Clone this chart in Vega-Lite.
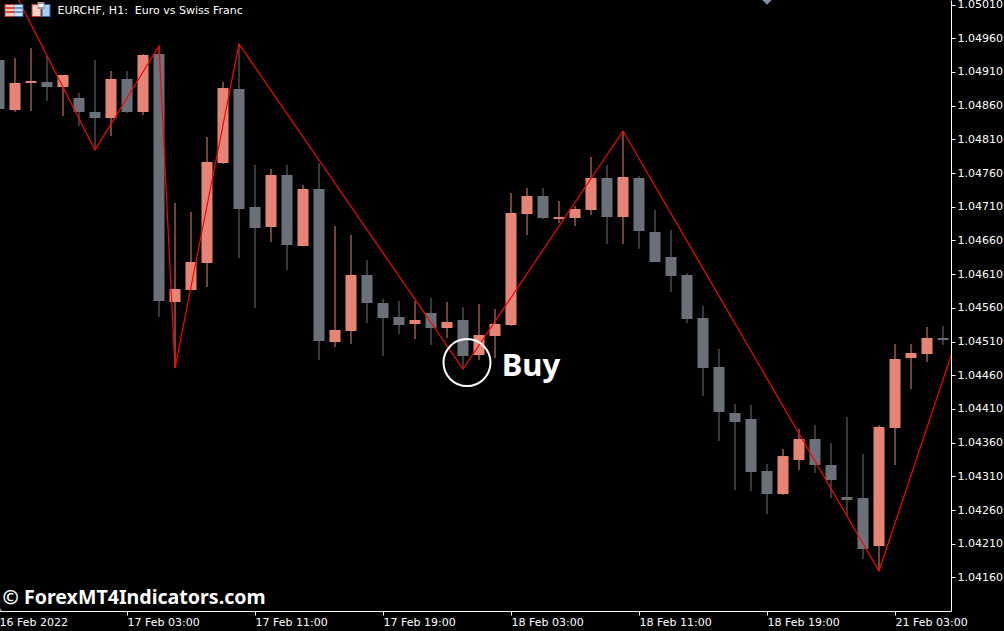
{
"$schema":"https://vega.github.io/schema/vega-lite/v6.json",
"width":952,"height":611,"autosize":{"type":"none"},"padding":{"left":-1,"top":0,"right":53,"bottom":20},"background":"#000000",
"config":{"view":{"stroke":null},"font":"DejaVu Sans"},
"datasets":{
"candles":[
{"i":0,"dir":"down","open":1.049277,"high":1.049277,"low":1.048550,"close":1.048550},
{"i":1,"dir":"up","open":1.048535,"high":1.049306,"low":1.048505,"close":1.048936},
{"i":2,"dir":"up","open":1.048936,"high":1.049455,"low":1.048520,"close":1.048965},
{"i":3,"dir":"down","open":1.048950,"high":1.049336,"low":1.048668,"close":1.048876},
{"i":4,"dir":"up","open":1.048876,"high":1.049054,"low":1.048446,"close":1.049054},
{"i":5,"dir":"down","open":1.048713,"high":1.048787,"low":1.048298,"close":1.048505},
{"i":6,"dir":"down","open":1.048505,"high":1.049277,"low":1.047941,"close":1.048416},
{"i":7,"dir":"up","open":1.048416,"high":1.049114,"low":1.048149,"close":1.048995},
{"i":8,"dir":"down","open":1.048995,"high":1.049114,"low":1.048490,"close":1.048505},
{"i":9,"dir":"up","open":1.048505,"high":1.049366,"low":1.048461,"close":1.049351},
{"i":10,"dir":"down","open":1.049366,"high":1.049484,"low":1.045464,"close":1.045701},
{"i":11,"dir":"up","open":1.045686,"high":1.047155,"low":1.044707,"close":1.045879},
{"i":12,"dir":"up","open":1.045864,"high":1.047022,"low":1.045864,"close":1.046280},
{"i":13,"dir":"up","open":1.046265,"high":1.048134,"low":1.045909,"close":1.047763},
{"i":14,"dir":"up","open":1.047749,"high":1.048950,"low":1.047734,"close":1.048861},
{"i":15,"dir":"down","open":1.048847,"high":1.049514,"low":1.046339,"close":1.047066},
{"i":16,"dir":"down","open":1.047096,"high":1.047719,"low":1.045597,"close":1.046784},
{"i":17,"dir":"up","open":1.046799,"high":1.047660,"low":1.046576,"close":1.047571},
{"i":18,"dir":"down","open":1.047571,"high":1.047719,"low":1.046161,"close":1.046532},
{"i":19,"dir":"up","open":1.046517,"high":1.047422,"low":1.046517,"close":1.047363},
{"i":20,"dir":"down","open":1.047363,"high":1.047749,"low":1.044826,"close":1.045108},
{"i":21,"dir":"up","open":1.045093,"high":1.046814,"low":1.045019,"close":1.045271},
{"i":22,"dir":"up","open":1.045256,"high":1.046680,"low":1.045063,"close":1.046087},
{"i":23,"dir":"down","open":1.046087,"high":1.046309,"low":1.045375,"close":1.045671},
{"i":24,"dir":"down","open":1.045671,"high":1.045731,"low":1.044885,"close":1.045449},
{"i":25,"dir":"down","open":1.045464,"high":1.045701,"low":1.045211,"close":1.045345},
{"i":26,"dir":"up","open":1.045360,"high":1.045701,"low":1.045137,"close":1.045419},
{"i":27,"dir":"down","open":1.045523,"high":1.045746,"low":1.045048,"close":1.045300},
{"i":28,"dir":"up","open":1.045300,"high":1.045686,"low":1.045152,"close":1.045389},
{"i":29,"dir":"down","open":1.045419,"high":1.045612,"low":1.044692,"close":1.044885},
{"i":30,"dir":"up","open":1.044900,"high":1.045657,"low":1.044826,"close":1.045197},
{"i":31,"dir":"up","open":1.045182,"high":1.045582,"low":1.044855,"close":1.045360},
{"i":32,"dir":"up","open":1.045345,"high":1.047303,"low":1.045330,"close":1.047007},
{"i":33,"dir":"up","open":1.046992,"high":1.047378,"low":1.046680,"close":1.047259},
{"i":34,"dir":"down","open":1.047259,"high":1.047378,"low":1.046918,"close":1.046933},
{"i":35,"dir":"up","open":1.046918,"high":1.047185,"low":1.046858,"close":1.046947},
{"i":36,"dir":"up","open":1.046933,"high":1.047111,"low":1.046814,"close":1.047066},
{"i":37,"dir":"up","open":1.047051,"high":1.047838,"low":1.046977,"close":1.047526},
{"i":38,"dir":"down","open":1.047526,"high":1.047719,"low":1.046547,"close":1.046947},
{"i":39,"dir":"up","open":1.046947,"high":1.048223,"low":1.046547,"close":1.047541},
{"i":40,"dir":"down","open":1.047526,"high":1.047556,"low":1.046473,"close":1.046740},
{"i":41,"dir":"down","open":1.046725,"high":1.047051,"low":1.046280,"close":1.046280},
{"i":42,"dir":"down","open":1.046354,"high":1.046754,"low":1.045835,"close":1.046072},
{"i":43,"dir":"down","open":1.046087,"high":1.046117,"low":1.045375,"close":1.045434},
{"i":44,"dir":"down","open":1.045449,"high":1.045627,"low":1.044292,"close":1.044707},
{"i":45,"dir":"down","open":1.044722,"high":1.044989,"low":1.043624,"close":1.044054},
{"i":46,"dir":"down","open":1.044039,"high":1.044173,"low":1.042897,"close":1.043906},
{"i":47,"dir":"down","open":1.043950,"high":1.044158,"low":1.042882,"close":1.043164},
{"i":48,"dir":"down","open":1.043179,"high":1.043283,"low":1.042541,"close":1.042837},
{"i":49,"dir":"up","open":1.042837,"high":1.043505,"low":1.042823,"close":1.043401},
{"i":50,"dir":"up","open":1.043342,"high":1.043802,"low":1.043194,"close":1.043654},
{"i":51,"dir":"down","open":1.043654,"high":1.043861,"low":1.043149,"close":1.043268},
{"i":52,"dir":"down","open":1.043268,"high":1.043594,"low":1.042778,"close":1.043045},
{"i":53,"dir":"down","open":1.042793,"high":1.043980,"low":1.042511,"close":1.042748},
{"i":54,"dir":"down","open":1.042778,"high":1.043431,"low":1.041873,"close":1.042021},
{"i":55,"dir":"up","open":1.042066,"high":1.043861,"low":1.041695,"close":1.043832},
{"i":56,"dir":"up","open":1.043817,"high":1.045063,"low":1.043268,"close":1.044841},
{"i":57,"dir":"up","open":1.044855,"high":1.045063,"low":1.044395,"close":1.044930},
{"i":58,"dir":"up","open":1.044915,"high":1.045315,"low":1.044796,"close":1.045152},
{"i":59,"dir":"down","open":1.045152,"high":1.045330,"low":1.045048,"close":1.045122}
],
"zigzag":[
{"i":1,"price":1.050271},{"i":6,"price":1.047941},{"i":10,"price":1.049484},{"i":11,"price":1.044707},{"i":15,"price":1.049514},{"i":29,"price":1.044692},{"i":39,"price":1.048223},{"i":55,"price":1.041695},{"i":60,"price":1.045241}
],
"labels":[
{"i":3.656,"price":1.050004,"text":"EURCHF, H1:\u00a0 Euro vs Swiss Franc","kind":"header"},
{"i":31.42,"price":1.044722,"text":"Buy","kind":"buy"},
{"i":0.22,"price":1.041293,"text":"© ForexMT4Indicators.com","kind":"footer"}
],
"icons":[
{"a":0.34375,"b":0.96875,"p":1.050108,"q":1.049915,"c":"#c0392b"},
{"a":0.96875,"b":1.53125,"p":1.050108,"q":1.049915,"c":"#2a6db5"},
{"a":0.40625,"b":0.96875,"p":1.050093,"q":1.049930,"c":"#f7c9c0"},
{"a":0.96875,"b":1.46875,"p":1.050093,"q":1.049930,"c":"#cfe3f7"},
{"a":0.40625,"b":0.96875,"p":1.050063,"q":1.050033,"c":"#d9483b"},
{"a":0.40625,"b":0.96875,"p":1.050004,"q":1.049974,"c":"#d9483b"},
{"a":0.96875,"b":1.46875,"p":1.050063,"q":1.050033,"c":"#5b9bd5"},
{"a":0.96875,"b":1.46875,"p":1.050004,"q":1.049974,"c":"#5b9bd5"},
{"a":2.03125,"b":2.65625,"p":1.050108,"q":1.049915,"c":"#c0392b"},
{"a":2.65625,"b":3.21875,"p":1.050108,"q":1.049915,"c":"#2a6db5"},
{"a":2.09375,"b":2.59375,"p":1.050093,"q":1.049930,"c":"#f9d0c8"},
{"a":2.71875,"b":3.15625,"p":1.050093,"q":1.049930,"c":"#a9cdf0"},
{"a":2.40625,"b":2.84375,"p":1.050137,"q":1.050033,"c":"#9a9a9a"},
{"a":2.46875,"b":2.78125,"p":1.050108,"q":1.050063,"c":"#ffffff"}
],
"markers":[
{"i":29.25,"price":1.044788,"kind":"circle"},
{"i":48,"price":1.050167,"kind":"diamond"},
{"i":0.03125,"price":1.041118,"kind":"triangle"}
]
},
"layer":[
{"data":{"name":"candles"},"mark":{"type":"rule","strokeWidth":1,"clip":true},
 "encoding":{
  "x":{"field":"i","type":"quantitative","title":null,"scale":{"domain":[0,59.5],"nice":false,"zero":false,"padding":0},
   "axis":{"values":[0,8,16,24,32,40,48,56],"labelExpr":"['16 Feb 2022','17 Feb 03:00','17 Feb 11:00','17 Feb 19:00','18 Feb 03:00','18 Feb 11:00','18 Feb 19:00','21 Feb 03:00'][datum.value/8]",
    "tickCount":20,"grid":false,"domainColor":"#ffffff","tickColor":"#ffffff","tickSize":4,"labelColor":"#ffffff","labelFont":"DejaVu Sans","labelFontSize":11,"labelAlign":"left","labelBaseline":"top","labelPadding":1,"labelBound":false,"labelFlush":false,"labelOverlap":false}},
  "y":{"field":"high","type":"quantitative","title":null,"scale":{"domain":[1.041102,1.050167],"nice":false,"zero":false,"padding":0},
   "axis":{"orient":"right","values":[1.0501,1.0496,1.0491,1.0486,1.0481,1.0476,1.0471,1.0466,1.0461,1.0456,1.0451,1.0446,1.0441,1.0436,1.0431,1.0426,1.0421,1.0416],"format":".5f",
    "tickCount":20,"grid":false,"domainColor":"#ffffff","tickColor":"#ffffff","tickSize":4,"labelColor":"#ffffff","labelFont":"DejaVu Sans","labelFontSize":11,"labelPadding":2,"labelBound":false,"labelFlush":false,"labelOverlap":false}},
  "y2":{"field":"low"},
  "color":{"field":"dir","type":"nominal","legend":null,"scale":{"domain":["up","down"],"range":["#e68576","#6c7079"]}}
 }},
{"data":{"name":"candles"},"mark":{"type":"bar","size":11,"clip":true},
 "encoding":{
  "x":{"field":"i","type":"quantitative","scale":{"domain":[0,59.5],"nice":false,"zero":false,"padding":0}},
  "y":{"field":"open","type":"quantitative","scale":{"domain":[1.041102,1.050167],"nice":false,"zero":false,"padding":0}},
  "y2":{"field":"close"},
  "color":{"field":"dir","type":"nominal","legend":null}
 }},
{"data":{"name":"zigzag"},"mark":{"type":"line","color":"#ff0000","strokeWidth":1.2,"clip":true},
 "encoding":{"x":{"field":"i","type":"quantitative","scale":{"domain":[0,59.5],"nice":false,"zero":false,"padding":0}},"y":{"field":"price","type":"quantitative","scale":{"domain":[1.041102,1.050167],"nice":false,"zero":false,"padding":0}}}},
{"data":{"name":"markers"},"transform":[{"filter":"datum.kind==='circle'"}],"mark":{"type":"point","shape":"circle","size":2209,"filled":false,"color":"#ffffff","strokeWidth":2,"opacity":1},
 "encoding":{"x":{"field":"i","type":"quantitative","scale":{"domain":[0,59.5],"nice":false,"zero":false,"padding":0}},"y":{"field":"price","type":"quantitative","scale":{"domain":[1.041102,1.050167],"nice":false,"zero":false,"padding":0}}}},
{"data":{"name":"markers"},"transform":[{"filter":"datum.kind==='diamond'"}],"mark":{"type":"point","shape":"diamond","size":90,"filled":true,"color":"#7f90a8","opacity":1,"clip":true},
 "encoding":{"x":{"field":"i","type":"quantitative","scale":{"domain":[0,59.5],"nice":false,"zero":false,"padding":0}},"y":{"field":"price","type":"quantitative","scale":{"domain":[1.041102,1.050167],"nice":false,"zero":false,"padding":0}}}},
{"data":{"name":"markers"},"transform":[{"filter":"datum.kind==='triangle'"}],"mark":{"type":"point","shape":"triangle-up","size":50,"filled":true,"color":"#7f90a8","opacity":1,"clip":true},
 "encoding":{"x":{"field":"i","type":"quantitative","scale":{"domain":[0,59.5],"nice":false,"zero":false,"padding":0}},"y":{"field":"price","type":"quantitative","scale":{"domain":[1.041102,1.050167],"nice":false,"zero":false,"padding":0}}}},
{"data":{"name":"icons"},"mark":{"type":"rect"},
 "encoding":{"x":{"field":"a","type":"quantitative","scale":{"domain":[0,59.5],"nice":false,"zero":false,"padding":0}},"x2":{"field":"b"},"y":{"field":"p","type":"quantitative","scale":{"domain":[1.041102,1.050167],"nice":false,"zero":false,"padding":0}},"y2":{"field":"q"},"fill":{"field":"c","type":"nominal","scale":null}}},
{"data":{"name":"labels"},"transform":[{"filter":"datum.kind==='header'"}],"mark":{"type":"text","align":"left","baseline":"middle","font":"DejaVu Sans","fontSize":11,"color":"#ffffff"},
 "encoding":{"x":{"field":"i","type":"quantitative","scale":{"domain":[0,59.5],"nice":false,"zero":false,"padding":0}},"y":{"field":"price","type":"quantitative","scale":{"domain":[1.041102,1.050167],"nice":false,"zero":false,"padding":0}},"text":{"field":"text"}}},
{"data":{"name":"labels"},"transform":[{"filter":"datum.kind==='buy'"}],"mark":{"type":"text","align":"left","baseline":"middle","font":"Noto Sans","fontWeight":"bold","fontSize":31,"color":"#ffffff"},
 "encoding":{"x":{"field":"i","type":"quantitative","scale":{"domain":[0,59.5],"nice":false,"zero":false,"padding":0}},"y":{"field":"price","type":"quantitative","scale":{"domain":[1.041102,1.050167],"nice":false,"zero":false,"padding":0}},"text":{"field":"text"}}},
{"data":{"name":"labels"},"transform":[{"filter":"datum.kind==='footer'"}],"mark":{"type":"text","align":"left","baseline":"middle","font":"Noto Sans","fontWeight":"bold","fontSize":19.6,"color":"#ffffff"},
 "encoding":{"x":{"field":"i","type":"quantitative","scale":{"domain":[0,59.5],"nice":false,"zero":false,"padding":0}},"y":{"field":"price","type":"quantitative","scale":{"domain":[1.041102,1.050167],"nice":false,"zero":false,"padding":0}},"text":{"field":"text"}}}
]
}
